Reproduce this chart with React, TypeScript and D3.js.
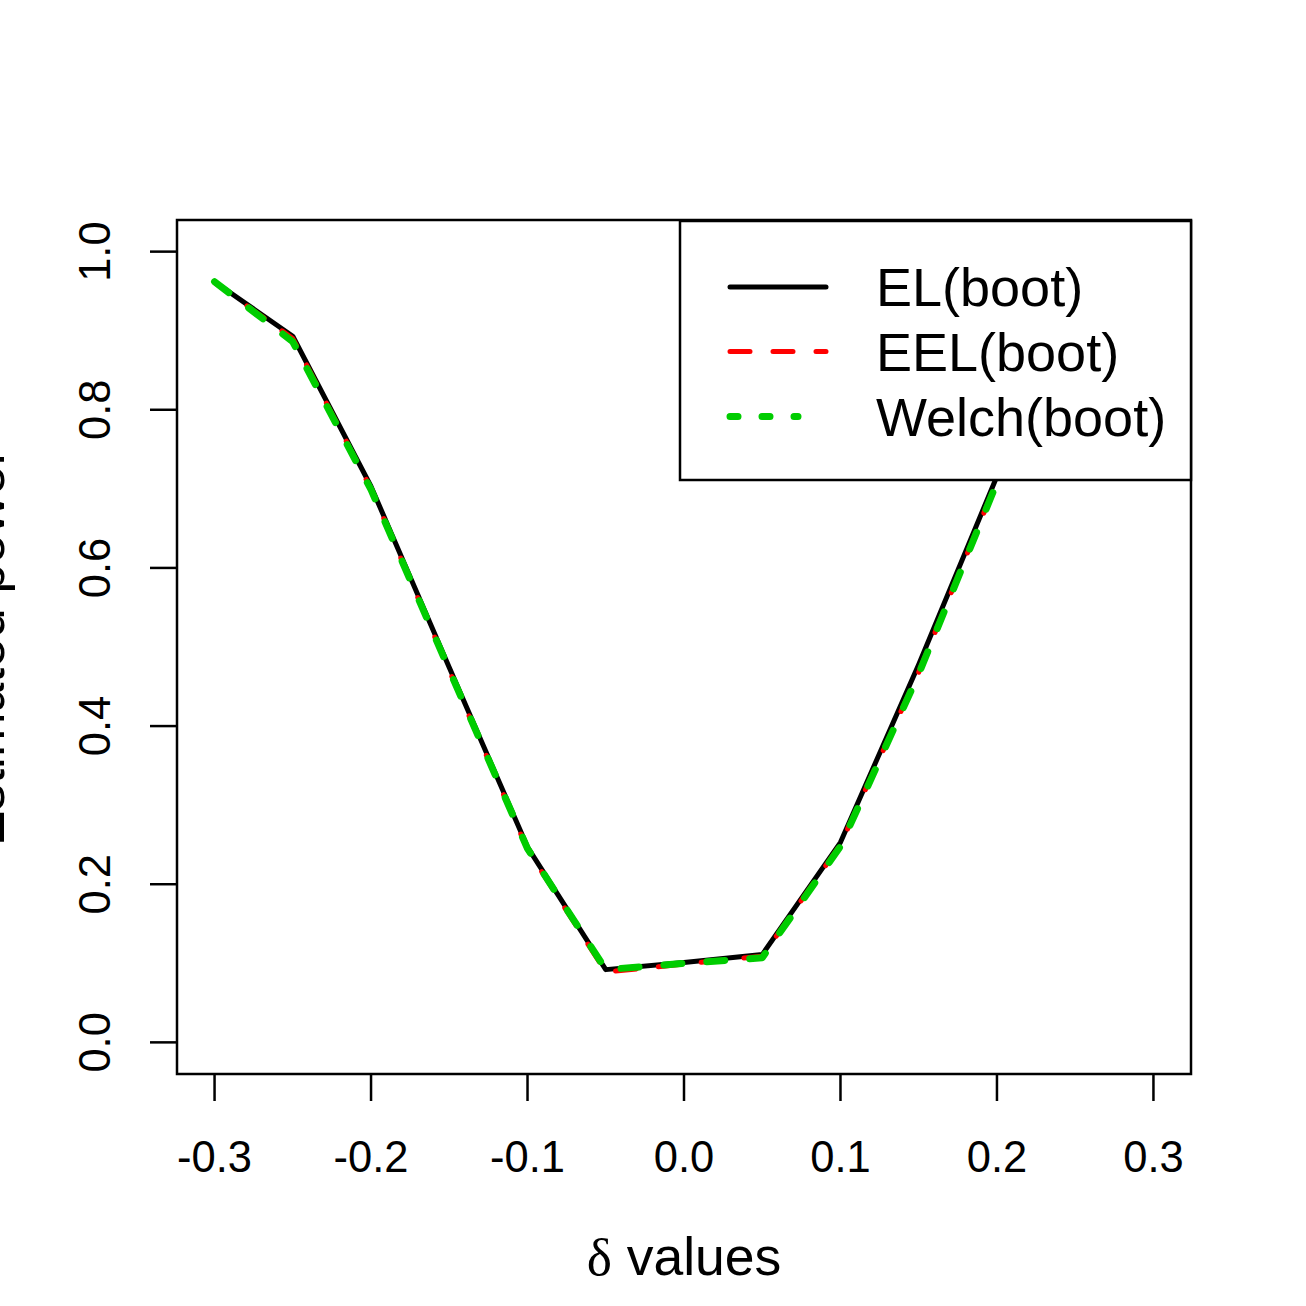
import { scaleLinear, line as d3line } from "d3";

const delta = [-0.3, -0.25, -0.2, -0.15, -0.1, -0.05, 0, 0.05, 0.1, 0.15, 0.2, 0.25, 0.3];
const elBoot = [0.962, 0.893, 0.703, 0.474, 0.247, 0.092, 0.101, 0.111, 0.253, 0.478, 0.716, 0.892, 0.960];
const eelBoot = [0.961, 0.890, 0.700, 0.470, 0.244, 0.089, 0.099, 0.109, 0.250, 0.468, 0.710, 0.888, 0.958];
const welchBoot = [0.962, 0.886, 0.699, 0.471, 0.245, 0.092, 0.100, 0.107, 0.248, 0.466, 0.708, 0.886, 0.958];

const xTicks = [-0.3, -0.2, -0.1, 0, 0.1, 0.2, 0.3];
const yTicks = [0, 0.2, 0.4, 0.6, 0.8, 1];
const legendLabels = ["EL(boot)", "EEL(boot)", "Welch(boot)"];

const W = 1306;
const H = 1306;
const box = { left: 177, right: 1191, top: 220, bottom: 1074 };
const sans = "'Liberation Sans', Arial, sans-serif";

export default function App() {
  // R style: 4% padding on each side of the data range
  let xScale = scaleLinear().domain([-0.324, 0.324]).range([box.left, box.right]);
  let yScale = scaleLinear().domain([-0.04, 1.04]).range([box.bottom, box.top]);

  let line = d3line<number>()
    .x((_, i) => xScale(delta[i]))
    .y((d) => yScale(d));

  const series = [
    { values: elBoot, color: "#000000", width: 5, dash: undefined, offset: 0, legendDash: undefined, legendEnd: 828 },
    { values: eelBoot, color: "#ff0000", width: 5, dash: "21 22", offset: 3, legendDash: "20 23", legendEnd: 828 },
    { values: welchBoot, color: "#00cd00", width: 7, dash: "18 25", offset: 0, legendDash: "8 24", legendEnd: 800 },
  ];

  const legend = { left: 680, top: 221, right: box.right, bottom: 480 };
  const rowY = [287, 351.5, 416.5];

  return (
    <svg
      width={W}
      height={H}
      viewBox={`0 0 ${W} ${H}`}
      style={{ position: "absolute", left: 0, top: 0, background: "#fff" }}
    >
      <rect x={0} y={0} width={W} height={H} fill="#fff" />

      {/* Lines */}
      {series.map((s, i) => (
        <path
          key={i}
          d={line(s.values) ?? undefined}
          fill="none"
          stroke={s.color}
          strokeWidth={s.width}
          strokeDasharray={s.dash}
          strokeDashoffset={s.offset}
          strokeLinecap="round"
          strokeLinejoin="round"
        />
      ))}

      {/* Plot box */}
      <rect
        x={box.left}
        y={box.top}
        width={box.right - box.left}
        height={box.bottom - box.top}
        fill="none"
        stroke="#000"
        strokeWidth={2.5}
      />

      {/* X axis */}
      {xTicks.map((t) => (
        <g key={t}>
          <line x1={xScale(t)} x2={xScale(t)} y1={box.bottom} y2={box.bottom + 27} stroke="#000" strokeWidth={2.5} />
          <text x={xScale(t)} y={1172} textAnchor="middle" fontFamily={sans} fontSize={43.5}>
            {t.toFixed(1)}
          </text>
        </g>
      ))}

      {/* Y axis */}
      {yTicks.map((t) => (
        <g key={t}>
          <line x1={box.left - 27} x2={box.left} y1={yScale(t)} y2={yScale(t)} stroke="#000" strokeWidth={2.5} />
          <text
            transform={`translate(110,${yScale(t)}) rotate(-90)`}
            textAnchor="middle"
            fontFamily={sans}
            fontSize={43.5}
          >
            {t.toFixed(1)}
          </text>
        </g>
      ))}

      {/* Axis titles */}
      <text x={(box.left + box.right) / 2} y={1275} textAnchor="middle" fontFamily={sans} fontSize={53.5}>
        <tspan fontFamily="'Liberation Serif', 'DejaVu Serif', serif">δ</tspan> values
      </text>
      {/* y title runs off the left edge, as in the original */}
      <text
        transform={`translate(4,${(box.top + box.bottom) / 2}) rotate(-90)`}
        textAnchor="middle"
        fontFamily={sans}
        fontSize={53.5}
      >
        Estimated power
      </text>

      {/* Legend */}
      <rect
        x={legend.left}
        y={legend.top}
        width={legend.right - legend.left}
        height={legend.bottom - legend.top}
        fill="#fff"
        stroke="#000"
        strokeWidth={2.5}
      />
      {series.map((s, i) => (
        <g key={i}>
          <line
            x1={730}
            x2={s.legendEnd - 2}
            y1={rowY[i]}
            y2={rowY[i]}
            stroke={s.color}
            strokeWidth={s.width}
            strokeDasharray={s.legendDash}
            strokeLinecap="round"
          />
          <text x={876} y={rowY[i] + 19} fontFamily={sans} fontSize={54}>
            {legendLabels[i]}
          </text>
        </g>
      ))}
    </svg>
  );
}
